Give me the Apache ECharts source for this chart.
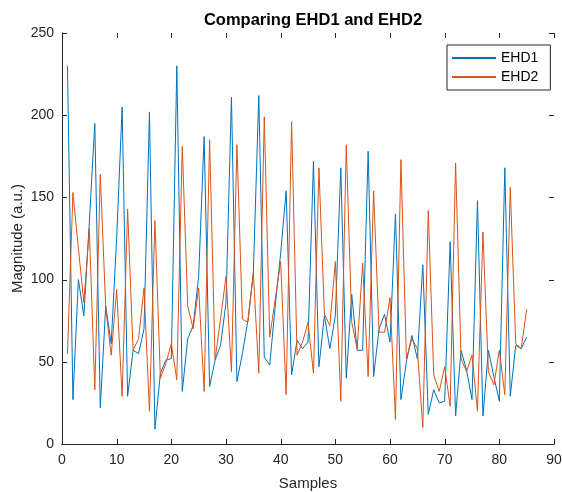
<!DOCTYPE html>
<html>
<head>
<meta charset="utf-8">
<script src="https://cdn.jsdelivr.net/npm/echarts@6/dist/echarts.min.js"></script>
<style>html,body{margin:0;padding:0;background:#fff;}#c{width:562px;height:492px;}</style>
</head>
<body>
<div id="c"></div>
<script>
const samples = Array.from({length: 85}, (_, i) => i + 1);
const ehd1 = [230,27,100,78,135,195,22,84,61,125,205,29,57,55,70,202,9,43,51,52,
  230,32,64,72,102,187,35,51,60,86,211,38,55,75,104,212,53,48,84,116,
  154,42,63,58,62,172,47,78,58,78,168,40,91,57,57,178,41,70,79,62,
  140,27,50,66,52,109,18,33,25,26,123,17,57,45,27,148,17,57,41,26,
  168,29,60,58,65];
const ehd2 = [55,153,119,86,131,33,164,83,54,94,29,143,57,64,95,20,136,40,49,61,
  39,181,84,70,95,32,185,51,76,102,44,182,76,74,104,43,199,65,88,111,
  30,196,54,62,74,43,168,79,72,111,26,182,74,58,110,41,154,68,68,89,
  15,173,52,64,58,10,142,42,32,47,23,171,52,44,54,20,129,44,36,57,
  30,156,61,58,82];
const xTicks = [0,10,20,30,40,50,60,70,80,90];
const yTicks = [0,50,100,150,200,250];

const font = 'Liberation Sans, Arial, Helvetica, sans-serif';
const axisCol = '#262626';
const xMin = xTicks[0], xMax = xTicks[xTicks.length - 1];
const yMin = yTicks[0], yMax = yTicks[yTicks.length - 1];
const TL = 5;
const chart = echarts.init(document.getElementById('c'), null, {renderer: 'canvas'});
const pair = arr => arr.map((v, i) => [samples[i], v]);
const lineShape = (x1, y1, x2, y2) => ({type: 'line', shape: {x1, y1, x2, y2},
  style: {stroke: axisCol, lineWidth: 1}});
function axisStyle(extra) {
  return Object.assign({
    axisLine: {show: true, lineStyle: {color: axisCol, width: 1}},
    axisTick: {show: false}, splitLine: {show: false}
  }, extra);
}
chart.setOption({
  animation: false,
  backgroundColor: '#fff',
  title: {
    text: 'Comparing EHD1 and EHD2', left: 308, top: 7, textAlign: 'center',
    textStyle: {fontFamily: font, fontSize: 16.5, fontWeight: 'bold', color: '#000'}
  },
  legend: {
    orient: 'vertical', left: 447, top: 45,
    borderColor: axisCol, borderWidth: 1, padding: [6, 12, 6, 5],
    itemWidth: 44, itemHeight: 2, itemGap: 5, icon: 'rect',
    textStyle: {fontFamily: font, fontSize: 14, color: '#000'},
    data: ['EHD1', 'EHD2']
  },
  grid: {left: 62, right: 8, top: 33, bottom: 48, containLabel: false, outerBoundsMode: 'none'},
  xAxis: [
    axisStyle({
      type: 'value', min: xMin, max: xMax, interval: 10, position: 'bottom',
      name: 'Samples', nameLocation: 'middle', nameGap: 32,
      nameTextStyle: {fontFamily: font, fontSize: 15, color: axisCol},
      axisLabel: {fontFamily: font, fontSize: 14, color: axisCol, margin: 9}
    }),
    axisStyle({type: 'value', min: xMin, max: xMax, interval: 10, position: 'top',
      axisLabel: {show: false}})
  ],
  yAxis: [
    axisStyle({
      type: 'value', min: yMin, max: yMax, interval: 50, position: 'left',
      name: 'Magnitude (a.u.)', nameLocation: 'middle', nameGap: 37, nameMoveOverlap: false,
      nameTextStyle: {fontFamily: font, fontSize: 15, color: axisCol},
      axisLabel: {fontFamily: font, fontSize: 14, color: axisCol, margin: 8}
    }),
    axisStyle({type: 'value', min: yMin, max: yMax, interval: 50, position: 'right',
      axisLabel: {show: false}})
  ],
  series: [
    {name: 'EHD1', type: 'line', data: pair(ehd1), showSymbol: false, symbol: 'none',
     lineStyle: {color: '#0072BD', width: 1}, itemStyle: {color: '#0072BD'}},
    {name: 'EHD2', type: 'line', data: pair(ehd2), showSymbol: false, symbol: 'none',
     lineStyle: {color: '#D95319', width: 1}, itemStyle: {color: '#D95319'}},
    {name: 'xticks', type: 'custom', silent: true, clip: false, z: 5,
     data: xTicks.map(v => [v, yMin]),
     renderItem: (params, api) => {
       const v = api.value(0);
       const b = api.coord([v, yMin]), t = api.coord([v, yMax]);
       const bx = Math.round(b[0]) + 0.5;
       return {type: 'group', children: [
         lineShape(bx, b[1], bx, b[1] - TL),
         lineShape(bx, t[1], bx, t[1] + TL)
       ]};
     }},
    {name: 'yticks', type: 'custom', silent: true, clip: false, z: 5,
     data: yTicks.map(v => [xMin, v]),
     renderItem: (params, api) => {
       const v = api.value(1);
       const l = api.coord([xMin, v]), r = api.coord([xMax, v]);
       const ly = Math.round(l[1]) + 0.5;
       return {type: 'group', children: [
         lineShape(l[0], ly, l[0] + TL, ly),
         lineShape(r[0], ly, r[0] - TL, ly)
       ]};
     }}
  ]
});
</script>
</body>
</html>
